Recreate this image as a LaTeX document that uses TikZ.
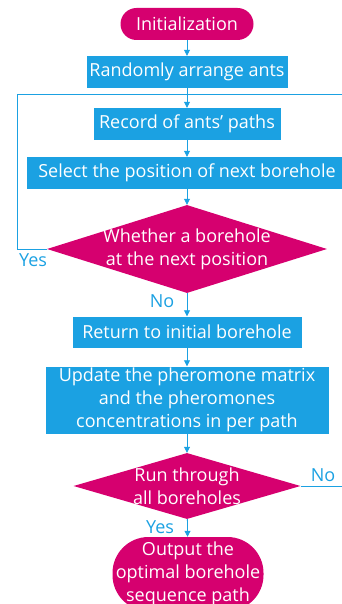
\documentclass[tikz,border=0pt]{standalone}
\usepackage{fontspec}
\setmainfont{Open Sans}
\usetikzlibrary{shapes.geometric,arrows.meta}
\definecolor{flowred}{HTML}{D6006F}
\definecolor{flowblue}{HTML}{1BA1E2}

\begin{document}
\begin{tikzpicture}
  [x=1pt,y=-1pt,
   every node/.style={text=white, align=center, inner sep=0pt,
     font=\fontsize{18}{23}\selectfont},
   terminal/.style={rectangle, rounded corners=#1, fill=flowred},
   process/.style={rectangle, fill=flowblue},
   decision/.style={diamond, inner sep=-3pt, fill=flowred},
   link/.style={draw=flowblue, line width=0.8pt},
   arrow/.style={link, -{Triangle[width=6pt,length=6pt]}},
   tag/.style={text=flowblue}]
  \useasboundingbox (0,0) rectangle (342,604);
  \clip (0,0) rectangle (342,604);

  \node[terminal=16pt, minimum width=133pt, minimum height=32pt] (init) at (187,24) {Initialization};
  \node[process, minimum width=201pt, minimum height=32pt] (arrange) at (187,72) {Randomly arrange ants};
  \node[process, minimum width=187pt, minimum height=32pt] (record) at (187,124) {Record of ants{\char"0027} paths};
  \node[process, minimum width=320pt, minimum height=32pt] (select) at (187,173) {Select the position of next borehole};
  \node[decision, aspect=3.2, minimum width=280pt, minimum height=88pt] (check) at (187,249) {Whether a borehole\\at the next position};
  \node[process, minimum width=229pt, minimum height=31pt] (back) at (187,332) {Return to initial borehole};
  \node[process, minimum width=283pt, minimum height=67pt] (update) at (187,400) {Update the pheromone matrix\\and the pheromones\\concentrations in per path};
  \node[decision, aspect=3.44, minimum width=227pt, minimum height=66pt] (runall) at (187,486) {Run through\\all boreholes};
  \node[terminal=36pt, minimum width=151pt, minimum height=74pt] (output) at (188,574) {Output the\\optimal borehole\\sequence path};

  \coordinate (loopL) at (17,94);
  \coordinate (loopR) at (345,94);

  \foreach \from/\to in {init/arrange,arrange/record,record/select,select/check,check/back,back/update,update/runall,runall/output}
    \draw[arrow] (\from) -- (\to);

  \draw[link] (check.west) -| (loopL) -- (loopR);
  \draw[link] (runall.east) -| (loopR);

  \node[tag] (yes1) at (33,260) {Yes};
  \node[tag] (no1) at (162,301) {No};
  \node[tag] (no2) at (323,475) {No};
  \node[tag] (yes2) at (160,527) {Yes};

\end{tikzpicture}
\end{document}
